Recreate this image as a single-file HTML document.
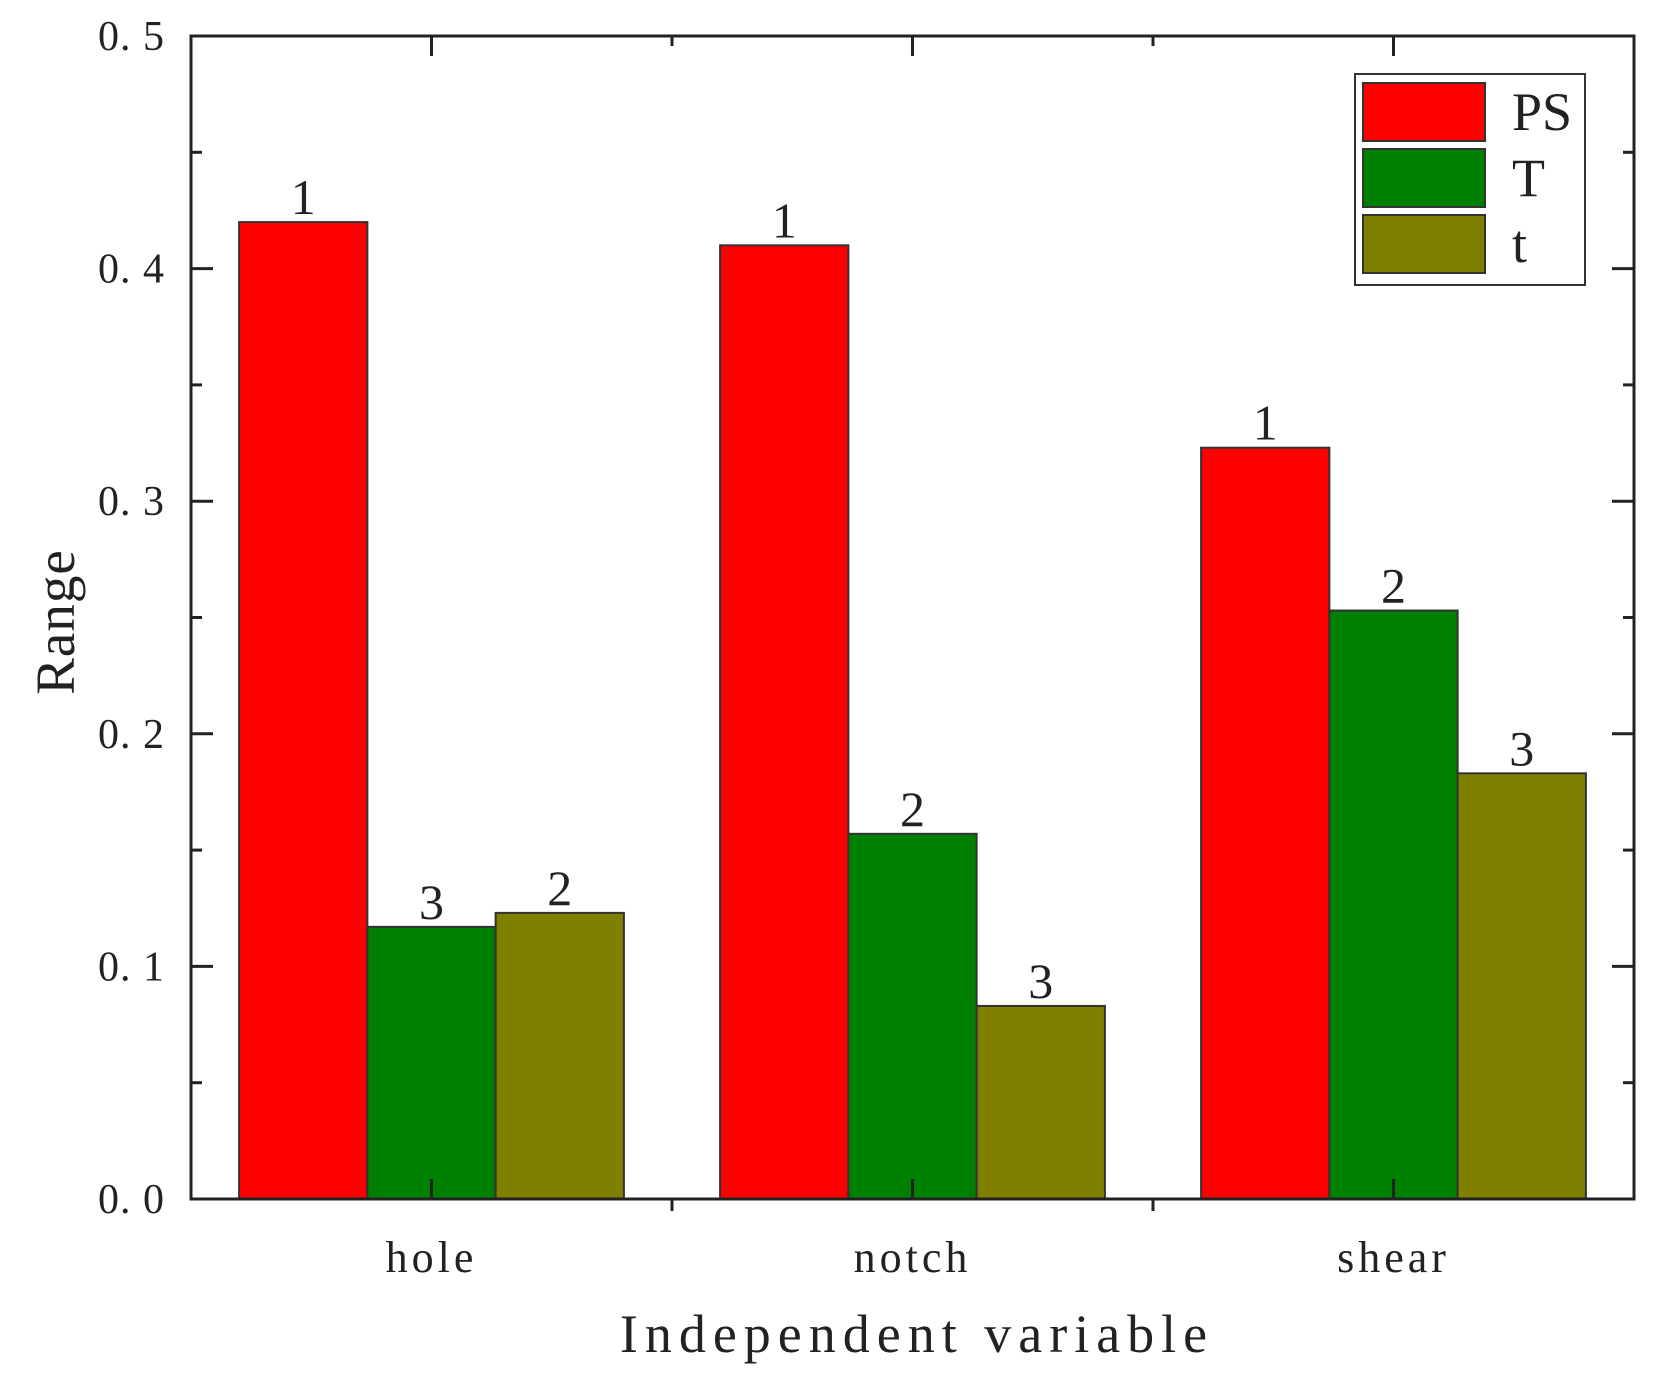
<!DOCTYPE html>
<html><head><meta charset="utf-8"><style>
html,body{margin:0;padding:0;background:#fff;}
svg{display:block;font-family:"Liberation Serif","Noto Serif CJK SC",serif;}
</style></head><body>
<svg id="chart" width="1659" height="1373" viewBox="0 0 1659 1373" xmlns="http://www.w3.org/2000/svg"></svg>
<script>
const categories = ["hole", "notch", "shear"];
const seriesNames = ["PS", "T", "t"];
const psValues = [0.42, 0.41, 0.323];
const tValues = [0.117, 0.157, 0.253];
const smallTValues = [0.123, 0.083, 0.183];
const rankPS = ["1", "1", "1"];
const rankT = ["3", "2", "2"];
const rankSmallT = ["2", "3", "3"];
const yTicks = [0, 0.1, 0.2, 0.3, 0.4, 0.5];
const yTickLabels = ["0. 0", "0. 1", "0. 2", "0. 3", "0. 4", "0. 5"];

const NS = "http://www.w3.org/2000/svg";
const svg = document.getElementById("chart");
const L = 191, R = 1634, T = 36, B = 1199;
const yMax = 0.5;
function y(v){ return B - (v / yMax) * (B - T); }
const catW = (R - L) / categories.length;
function xCenter(i){ return L + catW * (i + 0.5); }
const barW = catW * 0.8 / 3;
const colors = ["#ff0000", "#008000", "#808000"];
const series = [psValues, tValues, smallTValues];
const ranks = [rankPS, rankT, rankSmallT];

function mk(tag, attrs, parent){
  const e = document.createElementNS(NS, tag);
  for (const k in attrs) e.setAttribute(k, attrs[k]);
  (parent || svg).appendChild(e);
  return e;
}

const barsG = mk("g", {});


series.forEach((vals, s) => {
  vals.forEach((v, i) => {
    const x0 = xCenter(i) - 1.5 * barW + s * barW;
    const r = mk("rect", {x: x0, y: y(v), width: barW, height: B - y(v), fill: colors[s], stroke: "#333", "stroke-width": 2}, barsG);
    
    
    const t = mk("text", {x: x0 + barW / 2, y: y(v) - 8, "text-anchor": "middle", "font-size": 50, fill: "#222"}, barsG);
    t.textContent = ranks[s][i];
    
    
  });
});

const frame = mk("rect", {x: L, y: T, width: R - L, height: B - T, fill: "none", stroke: "#222", "stroke-width": 3});



const axG = mk("g", {stroke: "#222", "stroke-width": 3});


yTicks.forEach((v, i) => {
  mk("line", {x1: L, x2: L + 22, y1: y(v), y2: y(v)}, axG);
  mk("line", {x1: R, x2: R - 22, y1: y(v), y2: y(v)}, axG);
  if (i < yTicks.length - 1) {
    const m = (v + yTicks[i + 1]) / 2;
    mk("line", {x1: L, x2: L + 11, y1: y(m), y2: y(m)}, axG);
    mk("line", {x1: R, x2: R - 11, y1: y(m), y2: y(m)}, axG);
  }
  const t = mk("text", {x: 165, y: y(v) + 14, "text-anchor": "end", "font-size": 42, "letter-spacing": 1, fill: "#222", stroke: "none"});
  t.textContent = yTickLabels[i];
  
  
});
categories.forEach((c, i) => {
  mk("line", {x1: xCenter(i), x2: xCenter(i), y1: B, y2: B - 20}, axG);
  mk("line", {x1: xCenter(i), x2: xCenter(i), y1: T, y2: T + 20}, axG);
  if (i > 0) {
    const bx = L + catW * i;
    mk("line", {x1: bx, x2: bx, y1: B, y2: B + 12}, axG);
    mk("line", {x1: bx, x2: bx, y1: T, y2: T + 10}, axG);
  }
  const t = mk("text", {x: xCenter(i), y: 1272, "text-anchor": "middle", "font-size": 44, "letter-spacing": 4, fill: "#222", stroke: "none"});
  t.textContent = c;
  
  
});

const xt = mk("text", {x: 917, y: 1352, "text-anchor": "middle", "font-size": 54, fill: "#222", "letter-spacing": 7});
xt.textContent = "Independent variable";


const yt = mk("text", {x: 0, y: 0, transform: "translate(74,622) rotate(-90)", "text-anchor": "middle", "font-size": 55, "letter-spacing": 1, fill: "#222"});
yt.textContent = "Range";



const lg = mk("g", {});


mk("rect", {x: 1355, y: 74, width: 230, height: 211, fill: "#fff", stroke: "#333", "stroke-width": 2}, lg);
seriesNames.forEach((n, s) => {
  const ry = 83 + s * 66;
  const e = mk("g", {}, lg);
  
  
  mk("rect", {x: 1363, y: ry, width: 122, height: 58, fill: colors[s], stroke: "#333", "stroke-width": 2}, e);
  const t = mk("text", {x: 1512, y: ry + 47, "font-size": 54, fill: "#222"}, e);
  t.textContent = n;
});
</script>
</body></html>
